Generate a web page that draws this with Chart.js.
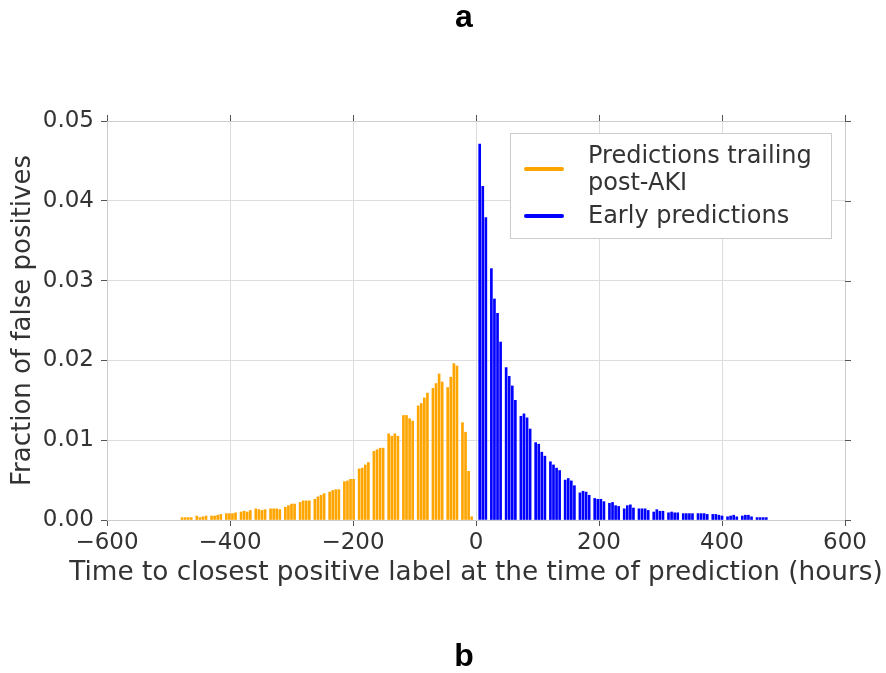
<!DOCTYPE html>
<html>
<head>
<meta charset="utf-8">
<script src="https://cdn.jsdelivr.net/npm/chart.js@4/dist/chart.umd.min.js"></script>
<style>
  html, body { margin: 0; padding: 0; background: #ffffff; }
  canvas { display: block; }
</style>
</head>
<body>
<canvas id="chart" width="886" height="673"></canvas>
<script>
// Bin positions (hours relative to the closest positive label) and the fraction of false positives in each bin.
const trailingHours = [
  -478, -473, -468, -463,
  -454, -449, -444, -439,
  -430, -425, -420, -415,
  -406, -401, -396, -391,
  -382, -377, -372, -367,
  -358, -353, -348, -343,
  -334, -329, -324, -319,
  -310, -305, -300, -295,
  -286, -281, -276, -271,
  -262, -257, -252, -247,
  -238, -233, -228, -223,
  -214, -209, -204, -199,
  -190, -185, -180, -175,
  -166, -161, -156, -151,
  -142, -137, -132, -127,
  -118, -113, -108, -103,
  -94, -89, -84, -79,
  -70, -65, -60, -55,
  -46, -41, -36, -31,
  -22, -17, -12, -7
];
const trailingFraction = [
  0.0003, 0.0003, 0.0003, 0.0003,
  0.0005, 0.0003, 0.0004, 0.0005,
  0.0005, 0.0005, 0.0006, 0.0007,
  0.0008, 0.0008, 0.0008, 0.0009,
  0.0010, 0.0011, 0.0010, 0.0012,
  0.0014, 0.0013, 0.0012, 0.0013,
  0.0014, 0.0014, 0.0014, 0.0013,
  0.0016, 0.0018, 0.0020, 0.0020,
  0.0022, 0.0024, 0.0024, 0.0024,
  0.0026, 0.0029, 0.0031, 0.0033,
  0.0035, 0.0037, 0.0038, 0.0038,
  0.0048, 0.0049, 0.0051, 0.0051,
  0.0064, 0.0065, 0.0069, 0.0072,
  0.0086, 0.0088, 0.0090, 0.0090,
  0.0108, 0.0105, 0.0108, 0.0105,
  0.0131, 0.0131, 0.0127, 0.0124,
  0.0143, 0.0146, 0.0153, 0.0159,
  0.0165, 0.0171, 0.0183, 0.0173,
  0.0166, 0.0179, 0.0196, 0.0193,
  0.0122, 0.0110, 0.0061, 0.0004
];

const earlyHours = [
  6, 11, 16,
  25, 30, 35, 40,
  49, 54, 59, 64,
  73, 78, 83, 88,
  97, 102, 107, 112,
  121, 126, 131, 136,
  145, 150, 155, 160,
  169, 174, 179, 184,
  193, 198, 203, 208,
  217, 222, 227, 232,
  241, 246, 251, 256,
  265, 270, 275, 280,
  289, 294, 299, 304,
  313, 318, 323, 328,
  337, 342, 347, 352,
  361, 366, 371, 376,
  385, 390, 395, 400,
  409, 414, 419, 424,
  433, 438, 443, 448,
  457, 462, 467, 472
];
const earlyFraction = [
  0.0471, 0.0418, 0.0379,
  0.0315, 0.0277, 0.0259, 0.0223,
  0.0191, 0.0180, 0.0168, 0.0150,
  0.0130, 0.0133, 0.0128, 0.0114,
  0.0097, 0.0095, 0.0085, 0.0080,
  0.0073, 0.0069, 0.0065, 0.0062,
  0.0050, 0.0052, 0.0049, 0.0043,
  0.0034, 0.0036, 0.0035, 0.0031,
  0.0027, 0.0026, 0.0026, 0.0023,
  0.0021, 0.0022, 0.0018, 0.0017,
  0.0014, 0.0018, 0.0019, 0.0015,
  0.0014, 0.0014, 0.0014, 0.0012,
  0.0010, 0.0013, 0.0011, 0.0011,
  0.0009, 0.0010, 0.0009, 0.0009,
  0.0008, 0.0008, 0.0008, 0.0008,
  0.0008, 0.0008, 0.0008, 0.0007,
  0.0007, 0.0007, 0.0006, 0.0005,
  0.0004, 0.0005, 0.0006, 0.0004,
  0.0005, 0.0006, 0.0006, 0.0004,
  0.0003, 0.0003, 0.0003, 0.0003
];

const xTickValues = [-600, -400, -200, 0, 200, 400, 600];
const yTickValues = [0, 0.01, 0.02, 0.03, 0.04, 0.05];

const trailingLabel = ['Predictions trailing', 'post-AKI'];
const earlyLabel = ['Early predictions'];
const xTitle = 'Time to closest positive label at the time of prediction (hours)';
const yTitle = 'Fraction of false positives';
const panelTop = 'a';
const panelBottom = 'b';

const ORANGE = '#ffa500';
const BLUE = '#0000ff';
const TEXT = '#333333';
const GRID = '#dddddd';
const FRAME = '#cccccc';
const TICK = '#555555';
const FONT = '"DejaVu Sans", sans-serif';

Chart.defaults.font.family = FONT;
Chart.defaults.color = TEXT;

const points = (xs, ys) => xs.map((h, i) => ({ x: h, y: ys[i] }));

// Frame, mirrored tick marks, x-axis title, legend box and panel letters.
const decorations = {
  id: 'decorations',
  afterDraw(chart) {
    const { ctx, chartArea: a, scales: { x, y } } = chart;
    ctx.save();

    ctx.strokeStyle = FRAME;
    ctx.lineWidth = 1;
    ctx.strokeRect(Math.round(a.left) + 0.5, Math.round(a.top) + 0.5,
                   Math.round(a.right - a.left), Math.round(a.bottom - a.top));

    ctx.strokeStyle = TICK;
    ctx.beginPath();
    xTickValues.forEach(v => {
      const px = Math.round(x.getPixelForValue(v)) + 0.5;
      ctx.moveTo(px, a.top);
      ctx.lineTo(px, a.top - 6);
    });
    yTickValues.forEach(v => {
      const py = Math.round(y.getPixelForValue(v)) + 0.5;
      ctx.moveTo(a.right, py);
      ctx.lineTo(a.right + 6, py);
    });
    ctx.stroke();

    // x-axis title (wider than the plot area, so drawn here at full width)
    ctx.fillStyle = TEXT;
    ctx.font = '26.3px ' + FONT;
    ctx.textAlign = 'center';
    ctx.textBaseline = 'alphabetic';
    ctx.fillText(xTitle, (a.left + a.right) / 2, a.bottom + 60);

    // legend
    const lx = a.right - 335, ly = a.top + 12;
    ctx.fillStyle = '#ffffff';
    ctx.fillRect(lx, ly, 321, 105);
    ctx.strokeStyle = FRAME;
    ctx.strokeRect(lx + 0.5, ly + 0.5, 321, 105);

    ctx.lineWidth = 4;
    ctx.lineCap = 'round';
    ctx.strokeStyle = ORANGE;
    ctx.beginPath();
    ctx.moveTo(lx + 16, ly + 36); ctx.lineTo(lx + 52, ly + 36);
    ctx.stroke();
    ctx.strokeStyle = BLUE;
    ctx.beginPath();
    ctx.moveTo(lx + 16, ly + 83); ctx.lineTo(lx + 52, ly + 83);
    ctx.stroke();

    ctx.fillStyle = TEXT;
    ctx.font = '24px ' + FONT;
    ctx.textAlign = 'left';
    trailingLabel.forEach((t, i) => ctx.fillText(t, lx + 78, ly + 30 + i * 27));
    earlyLabel.forEach((t, i) => ctx.fillText(t, lx + 78, ly + 90 + i * 27));

    // panel letters
    ctx.fillStyle = '#000000';
    ctx.font = 'bold 32px "Liberation Sans", Arial, sans-serif';
    ctx.textAlign = 'center';
    ctx.fillText(panelTop, 464, 27);
    ctx.fillText(panelBottom, 464, 666);

    ctx.restore();
  }
};

new Chart(document.getElementById('chart'), {
  type: 'bar',
  data: {
    datasets: [
      {
        label: trailingLabel.join(' '),
        data: points(trailingHours, trailingFraction),
        backgroundColor: ORANGE,
        barThickness: 2,
        grouped: false
      },
      {
        label: earlyLabel.join(' '),
        data: points(earlyHours, earlyFraction),
        backgroundColor: BLUE,
        barThickness: 2,
        grouped: false
      }
    ]
  },
  options: {
    responsive: false,
    animation: false,
    events: [],
    layout: { padding: { top: 121, left: 4, right: 41, bottom: 81 } },
    plugins: {
      legend: { display: false },
      tooltip: { enabled: false },
      title: { display: false }
    },
    scales: {
      x: {
        type: 'linear',
        min: -600,
        max: 600,
        offset: false,
        afterBuildTicks: s => { s.ticks = xTickValues.map(v => ({ value: v })); },
        afterFit: s => { s.height = 72; },
        grid: { offset: false, color: GRID, tickColor: TICK, tickLength: 6, drawTicks: true },
        border: { display: false },
        ticks: {
          padding: 3,
          color: TEXT,
          font: { size: 23 },
          maxRotation: 0,
          callback: v => (v < 0 ? '\u2212' + Math.abs(v) : String(v))
        },
        title: { display: false }
      },
      y: {
        min: 0,
        max: 0.05,
        afterBuildTicks: s => { s.ticks = yTickValues.map(v => ({ value: v })); },
        afterFit: s => { s.width = 103; },
        grid: { color: GRID, tickColor: TICK, tickLength: 6, drawTicks: true },
        border: { display: false },
        ticks: {
          padding: 7,
          color: TEXT,
          font: { size: 23 },
          callback: v => v.toFixed(2)
        },
        title: {
          display: true,
          text: yTitle,
          color: TEXT,
          font: { size: 26 },
          padding: { top: 4, bottom: 0 }
        }
      }
    }
  },
  plugins: [decorations]
});
</script>
</body>
</html>
